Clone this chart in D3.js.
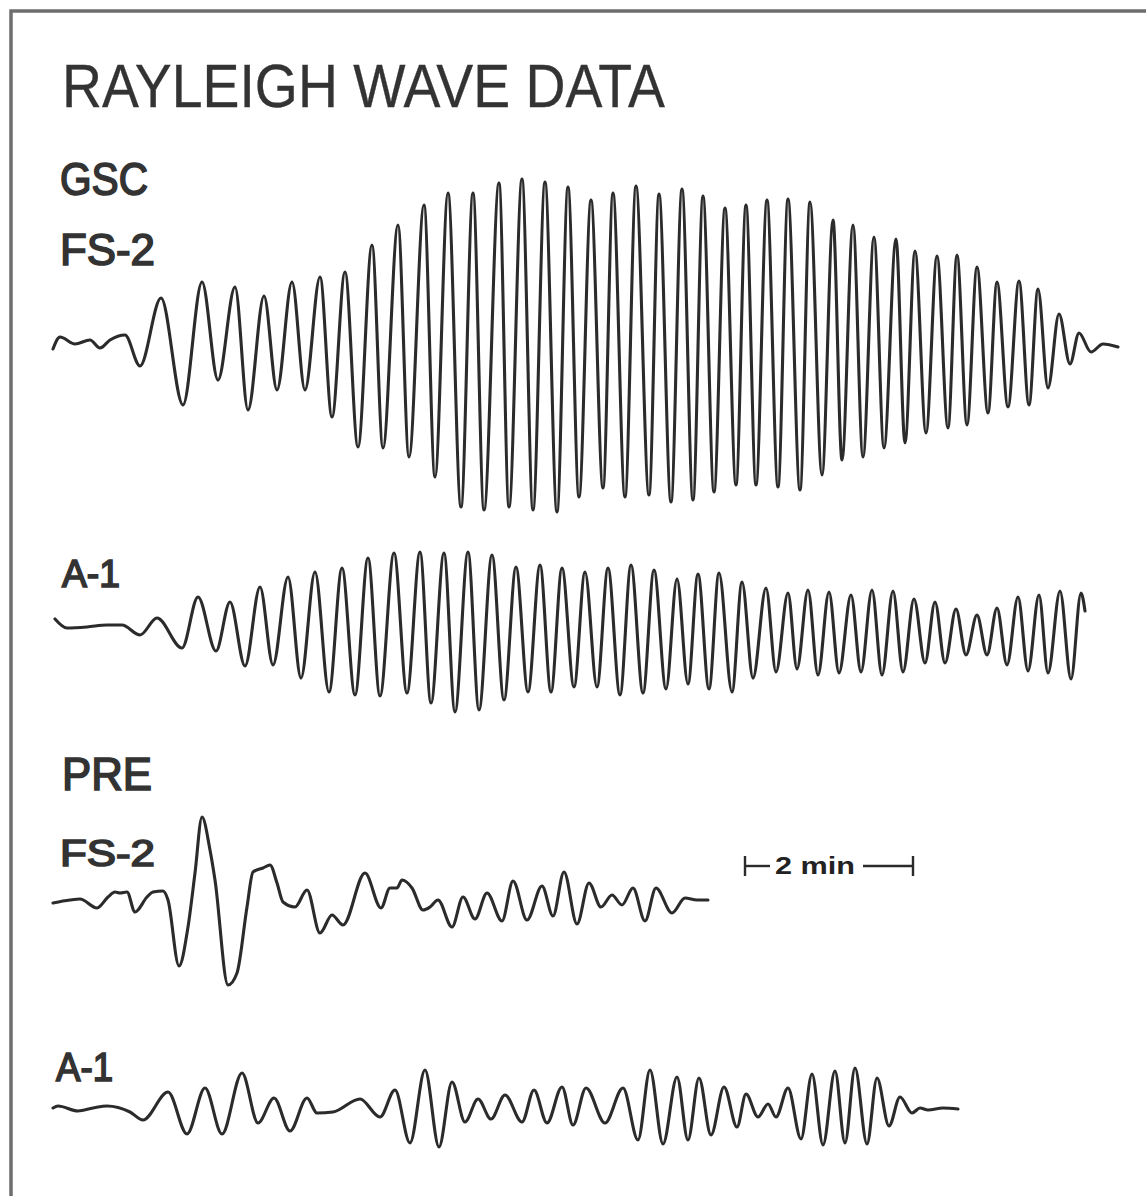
<!DOCTYPE html>
<html>
<head>
<meta charset="utf-8">
<script src="https://cdn.jsdelivr.net/npm/d3@7"></script>
<style>
  body { margin: 0; background: #fff; }
  svg { display: block; }
</style>
</head>
<body>
<div id="chart"></div>
<script>
// record distance (mm along the trace) and trace amplitude (mm, up = positive)
// 168 mm of record = 2 min
const gscFs2T = [0,7,22,37,47,57,72,87,108,130,149,165,182,195,211,224,239,252,267,279,292,305,319,330,345,356,371,382,395,408,420,431,446,456,469,480,492,504,515,526,538,550,560,572,583,596,606,618,629,640,650,661,672,683,693,703,714,725,735,747,757,769,780,789,800,810,821,831,843,852,862,873,884,895,904,914,924,935,944,955,966,976,985,995,1006,1017,1026,1038,1050,1065];
const gscFs2A = [-2,10,3,7,-1,7,12,-19,49,-58,65,-33,60,-63,51,-43,65,-43,70,-70,75,-100,102,-101,122,-110,142,-130,154,-160,154,-163,164,-160,168,-163,165,-165,160,-150,147,-141,154,-150,161,-148,153,-155,158,-153,151,-145,139,-138,142,-138,147,-140,148,-143,145,-128,127,-113,122,-110,110,-101,108,-96,96,-86,91,-81,92,-78,80,-66,65,-60,66,-58,58,-41,33,-17,14,-5,3,0];

const gscA1T = [2,14,34,54,69,87,104,129,145,163,177,192,207,220,235,248,262,276,289,302,315,327,341,354,367,378,391,402,415,426,439,451,463,475,487,498,509,521,532,544,555,567,578,590,601,613,624,635,645,656,666,679,689,700,713,723,735,744,755,765,776,786,798,808,819,829,840,850,861,872,882,892,903,913,924,934,944,954,965,975,986,995,1007,1018,1028,1032];
const gscA1A = [11,2,3,5,5,-5,12,-18,33,-21,28,-36,43,-35,53,-48,58,-62,62,-65,72,-66,77,-63,78,-73,77,-82,78,-80,75,-70,63,-62,65,-62,62,-57,58,-57,62,-65,65,-63,60,-59,51,-54,56,-59,57,-62,48,-48,42,-42,37,-39,40,-45,38,-43,35,-42,40,-45,39,-42,31,-33,28,-33,21,-25,15,-25,22,-35,33,-41,35,-43,39,-49,37,19];

const preFs2T = [0,17,27,44,55,62,67,74,82,94,100,110,115,126,135,142,149,157,162,175,184,194,200,210,217,224,230,242,254,267,279,290,312,328,337,344,349,359,370,377,385,399,410,422,434,449,460,474,489,500,511,524,536,548,559,569,580,592,603,619,632,644,655];
const preFs2A = [-3,0,1,-8,3,8,7,8,-12,3,8,9,0,-66,-27,27,83,50,20,-85,-73,-7,28,32,35,17,-2,-7,10,-33,-15,-25,27,-8,12,12,20,12,-10,-7,0,-27,3,-19,7,-21,19,-20,14,-16,28,-24,17,-7,5,-5,12,-21,12,-13,2,0,0];

const preA1T = [0,5,25,40,54,77,90,115,134,152,169,189,205,221,237,254,264,280,307,327,342,357,372,386,399,412,425,438,452,469,481,494,509,520,533,552,570,585,597,610,624,635,646,658,671,684,693,705,715,723,735,748,759,770,782,792,802,814,824,836,847,859,867,875,890,905];
const preA1A = [0,2,-3,0,2,-4,-12,16,-26,20,-26,35,-15,10,-23,10,-5,-4,9,-9,18,-35,38,-39,26,-14,9,-11,13,-14,18,-15,21,-17,20,-15,20,-32,38,-36,31,-32,30,-27,21,-19,14,-9,4,-9,20,-31,34,-37,37,-35,40,-36,30,-18,11,-5,0,-2,0,-1];

const traces = [
  { name: "GSC FS-2", t: gscFs2T, a: gscFs2A, base: 347 },
  { name: "GSC A-1", t: gscA1T, a: gscA1A, base: 630 },
  { name: "PRE FS-2", t: preFs2T, a: preFs2A, base: 900 },
  { name: "PRE A-1", t: preA1T, a: preA1A, base: 1108 }
];

const barStart = 692;   // mm
const barLength = 168;  // mm = 2 min

const W = 1146, H = 1196;
const svg = d3.select("#chart").append("svg")
  .attr("width", W)
  .attr("height", H);

svg.append("rect").attr("width", W).attr("height", H).attr("fill", "#fff");

// frame of the drawing sheet
svg.append("path")
  .attr("d", `M11,${H + 5} L11,11 L${W + 5},11`)
  .attr("fill", "none")
  .attr("stroke", "#6e6e6e")
  .attr("stroke-width", 3.5);

const xScale = d3.scaleLinear().domain([0, 1070]).range([53, 1123]);
const yScale = d3.scaleLinear().domain([-200, 200]).range([200, -200]);

const line = d3.line()
  .x(d => xScale(d[0]))
  .y(d => yScale(d[1]))
  .curve(d3.curveMonotoneX);

traces.forEach(tr => {
  const pts = tr.t.map((t, i) => [t, tr.a[i]]);
  svg.append("g")
    .attr("transform", `translate(0,${tr.base})`)
    .append("path")
    .datum(pts)
    .attr("fill", "none")
    .attr("stroke", "#2b2b2b")
    .attr("stroke-width", 3.1)
    .attr("stroke-linejoin", "round")
    .attr("stroke-linecap", "round")
    .attr("d", line);
});

// lettering
const font = "'Liberation Sans', Arial, sans-serif";
const labels = [
  { text: "RAYLEIGH WAVE DATA", x: 62, y: 107, size: 61, len: 603, w: 400, sw: 0.3 },
  { text: "GSC", x: 60, y: 195, size: 46, len: 88, w: 400, sw: 1.7 },
  { text: "FS-2", x: 60, y: 265, size: 44, len: 95, w: 400, sw: 1.7 },
  { text: "A-1", x: 62, y: 587, size: 38, len: 58, w: 400, sw: 1.7 },
  { text: "PRE", x: 62, y: 790, size: 47, len: 90, w: 400, sw: 1.7 },
  { text: "FS-2", x: 60, y: 866, size: 37, len: 95, w: 400, sw: 1.7 },
  { text: "A-1", x: 56, y: 1081, size: 40, len: 57, w: 400, sw: 1.7 }
];

svg.selectAll("text.lab")
  .data(labels)
  .enter()
  .append("text")
  .attr("class", "lab")
  .attr("x", d => d.x)
  .attr("y", d => d.y)
  .attr("font-family", font)
  .attr("font-size", d => d.size)
  .attr("font-weight", d => d.w)
  .attr("textLength", d => d.len)
  .attr("lengthAdjust", "spacingAndGlyphs")
  .attr("fill", "#333")
  .attr("stroke", "#333")
  .attr("stroke-width", d => d.sw)
  .text(d => d.text);

// 2 min scale bar
const barY = 866;
const bx0 = xScale(barStart), bx1 = xScale(barStart + barLength);
const bar = svg.append("g")
  .attr("stroke", "#2b2b2b")
  .attr("stroke-width", 2.4)
  .attr("fill", "none");
bar.append("line").attr("x1", bx0).attr("x2", bx0).attr("y1", barY - 10).attr("y2", barY + 10);
bar.append("line").attr("x1", bx1).attr("x2", bx1).attr("y1", barY - 10).attr("y2", barY + 10);
bar.append("line").attr("x1", bx0).attr("x2", bx0 + 25).attr("y1", barY).attr("y2", barY);
bar.append("line").attr("x1", bx1 - 50).attr("x2", bx1).attr("y1", barY).attr("y2", barY);

svg.append("text")
  .attr("x", bx0 + 30)
  .attr("y", barY + 8)
  .attr("font-family", font)
  .attr("font-size", 24)
  .attr("font-weight", 700)
  .attr("textLength", 80)
  .attr("lengthAdjust", "spacingAndGlyphs")
  .attr("fill", "#222")
  .text("2 min");
</script>
</body>
</html>
